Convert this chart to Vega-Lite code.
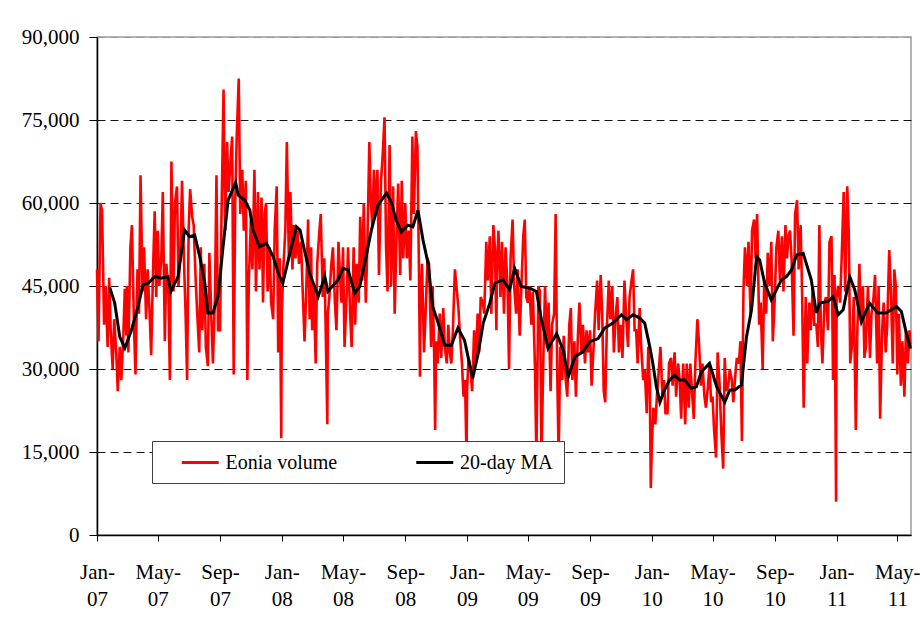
{
"$schema": "https://vega.github.io/schema/vega-lite/v6.json",
"width": 814, "height": 498,
"autosize": {"type": "none"},
"padding": {"left": 97, "top": 37, "right": 9, "bottom": 82},
"background": "white",
"config": {"view": {"stroke": "#9a9a9a", "strokeWidth": 1.5}, "font": "Liberation Serif",
 "legend": {"labelFont": "Liberation Serif", "titleFont": "Liberation Serif", "labelFontSize": 20},
 "axis": {"labelFont": "Liberation Serif"}},
"datasets": {
"eonia": [
{"d":"2007-01-01","v":48000},{"d":"2007-01-04","v":35000},{"d":"2007-01-08","v":60000},{"d":"2007-01-11","v":58500},{"d":"2007-01-15","v":38000},{"d":"2007-01-18","v":45000},{"d":"2007-01-22","v":34000},{"d":"2007-01-25","v":46500},{"d":"2007-01-28","v":37000},
{"d":"2007-02-01","v":30000},{"d":"2007-02-04","v":39000},{"d":"2007-02-08","v":33000},{"d":"2007-02-11","v":26000},{"d":"2007-02-15","v":34000},{"d":"2007-02-18","v":28000},{"d":"2007-02-22","v":36000},{"d":"2007-02-25","v":44500},{"d":"2007-02-28","v":36000},
{"d":"2007-03-01","v":45000},{"d":"2007-03-04","v":33000},{"d":"2007-03-08","v":52000},{"d":"2007-03-11","v":56000},{"d":"2007-03-15","v":38000},{"d":"2007-03-18","v":29000},{"d":"2007-03-22","v":48000},{"d":"2007-03-25","v":40000},{"d":"2007-03-28","v":65000},
{"d":"2007-04-01","v":44000},{"d":"2007-04-04","v":52000},{"d":"2007-04-08","v":39000},{"d":"2007-04-11","v":48000},{"d":"2007-04-15","v":40000},{"d":"2007-04-18","v":32500},{"d":"2007-04-22","v":49000},{"d":"2007-04-25","v":58500},{"d":"2007-04-28","v":43000},
{"d":"2007-05-01","v":55000},{"d":"2007-05-04","v":45000},{"d":"2007-05-08","v":50000},{"d":"2007-05-11","v":62000},{"d":"2007-05-15","v":35000},{"d":"2007-05-18","v":49000},{"d":"2007-05-22","v":44000},{"d":"2007-05-25","v":28000},{"d":"2007-05-28","v":67500},
{"d":"2007-06-01","v":44000},{"d":"2007-06-04","v":60000},{"d":"2007-06-08","v":63000},{"d":"2007-06-11","v":45000},{"d":"2007-06-15","v":52000},{"d":"2007-06-18","v":64000},{"d":"2007-06-22","v":49000},{"d":"2007-06-25","v":40000},{"d":"2007-06-28","v":28000},
{"d":"2007-07-01","v":55000},{"d":"2007-07-04","v":62500},{"d":"2007-07-08","v":57500},{"d":"2007-07-11","v":56000},{"d":"2007-07-15","v":46000},{"d":"2007-07-18","v":40000},{"d":"2007-07-22","v":33000},{"d":"2007-07-25","v":52000},{"d":"2007-07-28","v":37000},
{"d":"2007-08-01","v":49000},{"d":"2007-08-04","v":34000},{"d":"2007-08-08","v":30500},{"d":"2007-08-11","v":51000},{"d":"2007-08-15","v":39000},{"d":"2007-08-18","v":31000},{"d":"2007-08-22","v":43000},{"d":"2007-08-25","v":65000},{"d":"2007-08-28","v":37000},
{"d":"2007-09-01","v":37000},{"d":"2007-09-04","v":58000},{"d":"2007-09-08","v":80500},{"d":"2007-09-11","v":55000},{"d":"2007-09-15","v":71000},{"d":"2007-09-18","v":62000},{"d":"2007-09-22","v":68000},{"d":"2007-09-25","v":72000},{"d":"2007-09-28","v":29000},
{"d":"2007-10-01","v":60000},{"d":"2007-10-04","v":72000},{"d":"2007-10-08","v":82500},{"d":"2007-10-11","v":58000},{"d":"2007-10-15","v":66000},{"d":"2007-10-18","v":55000},{"d":"2007-10-22","v":64000},{"d":"2007-10-25","v":28000},{"d":"2007-10-28","v":46000},
{"d":"2007-11-01","v":57000},{"d":"2007-11-04","v":48000},{"d":"2007-11-08","v":66000},{"d":"2007-11-11","v":44000},{"d":"2007-11-15","v":62000},{"d":"2007-11-18","v":48000},{"d":"2007-11-22","v":61000},{"d":"2007-11-25","v":42000},{"d":"2007-11-28","v":58000},
{"d":"2007-12-01","v":60000},{"d":"2007-12-04","v":44000},{"d":"2007-12-08","v":52000},{"d":"2007-12-11","v":42000},{"d":"2007-12-15","v":39000},{"d":"2007-12-18","v":55000},{"d":"2007-12-22","v":63000},{"d":"2007-12-25","v":33000},{"d":"2007-12-28","v":50000},{"d":"2007-12-31","v":17500},
{"d":"2008-01-01","v":40000},{"d":"2008-01-04","v":48000},{"d":"2008-01-08","v":55000},{"d":"2008-01-11","v":71000},{"d":"2008-01-15","v":50000},{"d":"2008-01-18","v":62000},{"d":"2008-01-22","v":48000},{"d":"2008-01-25","v":56000},{"d":"2008-01-28","v":50000},
{"d":"2008-02-01","v":55000},{"d":"2008-02-04","v":49000},{"d":"2008-02-08","v":53000},{"d":"2008-02-11","v":45000},{"d":"2008-02-15","v":35000},{"d":"2008-02-18","v":43000},{"d":"2008-02-22","v":57000},{"d":"2008-02-25","v":39000},{"d":"2008-02-28","v":52000},
{"d":"2008-03-01","v":37000},{"d":"2008-03-04","v":45000},{"d":"2008-03-08","v":31000},{"d":"2008-03-11","v":49000},{"d":"2008-03-15","v":54500},{"d":"2008-03-18","v":58000},{"d":"2008-03-22","v":43000},{"d":"2008-03-25","v":50000},{"d":"2008-03-28","v":36000},{"d":"2008-03-31","v":20000},
{"d":"2008-04-01","v":40000},{"d":"2008-04-04","v":43000},{"d":"2008-04-08","v":49000},{"d":"2008-04-11","v":52000},{"d":"2008-04-15","v":42000},{"d":"2008-04-18","v":37000},{"d":"2008-04-22","v":53000},{"d":"2008-04-25","v":47000},{"d":"2008-04-28","v":42000},
{"d":"2008-05-01","v":52000},{"d":"2008-05-04","v":34000},{"d":"2008-05-08","v":43000},{"d":"2008-05-11","v":52000},{"d":"2008-05-15","v":40000},{"d":"2008-05-18","v":34000},{"d":"2008-05-22","v":52000},{"d":"2008-05-25","v":38000},{"d":"2008-05-28","v":49000},
{"d":"2008-06-01","v":42000},{"d":"2008-06-04","v":57500},{"d":"2008-06-08","v":46000},{"d":"2008-06-11","v":60000},{"d":"2008-06-15","v":42000},{"d":"2008-06-18","v":52000},{"d":"2008-06-22","v":71000},{"d":"2008-06-25","v":60000},{"d":"2008-06-28","v":56000},
{"d":"2008-07-01","v":66000},{"d":"2008-07-04","v":58000},{"d":"2008-07-08","v":66000},{"d":"2008-07-11","v":47000},{"d":"2008-07-15","v":64000},{"d":"2008-07-18","v":68000},{"d":"2008-07-22","v":75500},{"d":"2008-07-25","v":52000},{"d":"2008-07-28","v":44000},
{"d":"2008-08-01","v":70500},{"d":"2008-08-04","v":45000},{"d":"2008-08-08","v":63000},{"d":"2008-08-11","v":40000},{"d":"2008-08-15","v":55000},{"d":"2008-08-18","v":63500},{"d":"2008-08-22","v":47000},{"d":"2008-08-25","v":64000},{"d":"2008-08-28","v":50000},
{"d":"2008-09-01","v":60000},{"d":"2008-09-04","v":50000},{"d":"2008-09-08","v":55000},{"d":"2008-09-11","v":46000},{"d":"2008-09-15","v":72000},{"d":"2008-09-18","v":58000},{"d":"2008-09-22","v":73000},{"d":"2008-09-25","v":70000},{"d":"2008-09-28","v":48000},{"d":"2008-09-30","v":28600},
{"d":"2008-10-01","v":40000},{"d":"2008-10-04","v":49000},{"d":"2008-10-08","v":33000},{"d":"2008-10-11","v":40000},{"d":"2008-10-15","v":50000},{"d":"2008-10-18","v":49000},{"d":"2008-10-22","v":34000},{"d":"2008-10-25","v":45000},{"d":"2008-10-28","v":33000},{"d":"2008-10-30","v":19000},
{"d":"2008-11-01","v":35000},{"d":"2008-11-04","v":31000},{"d":"2008-11-08","v":40000},{"d":"2008-11-11","v":32000},{"d":"2008-11-15","v":41000},{"d":"2008-11-18","v":34000},{"d":"2008-11-22","v":31000},{"d":"2008-11-25","v":38000},{"d":"2008-11-28","v":33000},
{"d":"2008-12-01","v":31000},{"d":"2008-12-04","v":37000},{"d":"2008-12-08","v":48000},{"d":"2008-12-11","v":45000},{"d":"2008-12-15","v":41000},{"d":"2008-12-18","v":36000},{"d":"2008-12-22","v":31000},{"d":"2008-12-25","v":25000},{"d":"2008-12-28","v":28000},{"d":"2008-12-31","v":14000},
{"d":"2009-01-01","v":26000},{"d":"2009-01-04","v":32000},{"d":"2009-01-08","v":30000},{"d":"2009-01-11","v":26000},{"d":"2009-01-15","v":37000},{"d":"2009-01-18","v":31000},{"d":"2009-01-22","v":40000},{"d":"2009-01-25","v":33000},{"d":"2009-01-28","v":43000},
{"d":"2009-02-01","v":42000},{"d":"2009-02-04","v":40000},{"d":"2009-02-08","v":53000},{"d":"2009-02-11","v":46000},{"d":"2009-02-15","v":54000},{"d":"2009-02-18","v":40000},{"d":"2009-02-22","v":56000},{"d":"2009-02-25","v":52000},{"d":"2009-02-28","v":37000},
{"d":"2009-03-01","v":48000},{"d":"2009-03-04","v":55000},{"d":"2009-03-08","v":43000},{"d":"2009-03-11","v":53000},{"d":"2009-03-15","v":40000},{"d":"2009-03-18","v":52000},{"d":"2009-03-22","v":45000},{"d":"2009-03-25","v":30000},{"d":"2009-03-28","v":50000},
{"d":"2009-04-01","v":57000},{"d":"2009-04-04","v":45000},{"d":"2009-04-08","v":40000},{"d":"2009-04-11","v":48000},{"d":"2009-04-15","v":36000},{"d":"2009-04-18","v":44000},{"d":"2009-04-22","v":54000},{"d":"2009-04-25","v":57000},{"d":"2009-04-28","v":43000},
{"d":"2009-05-01","v":42000},{"d":"2009-05-04","v":45000},{"d":"2009-05-08","v":38000},{"d":"2009-05-11","v":44000},{"d":"2009-05-15","v":31000},{"d":"2009-05-18","v":14000},{"d":"2009-05-22","v":45000},{"d":"2009-05-25","v":44000},{"d":"2009-05-28","v":14000},
{"d":"2009-06-01","v":33000},{"d":"2009-06-04","v":45000},{"d":"2009-06-08","v":34000},{"d":"2009-06-11","v":42000},{"d":"2009-06-15","v":26000},{"d":"2009-06-18","v":38000},{"d":"2009-06-22","v":40000},{"d":"2009-06-25","v":58000},{"d":"2009-06-28","v":30000},
{"d":"2009-07-01","v":14000},{"d":"2009-07-04","v":34000},{"d":"2009-07-08","v":28000},{"d":"2009-07-11","v":36000},{"d":"2009-07-15","v":28000},{"d":"2009-07-18","v":25000},{"d":"2009-07-22","v":38000},{"d":"2009-07-25","v":41000},{"d":"2009-07-28","v":28000},
{"d":"2009-08-01","v":35000},{"d":"2009-08-04","v":25000},{"d":"2009-08-08","v":36000},{"d":"2009-08-11","v":42000},{"d":"2009-08-15","v":33000},{"d":"2009-08-18","v":38000},{"d":"2009-08-22","v":31000},{"d":"2009-08-25","v":37000},{"d":"2009-08-28","v":33000},
{"d":"2009-09-01","v":37000},{"d":"2009-09-04","v":27000},{"d":"2009-09-08","v":34000},{"d":"2009-09-11","v":40000},{"d":"2009-09-15","v":46000},{"d":"2009-09-18","v":37000},{"d":"2009-09-22","v":47000},{"d":"2009-09-25","v":40000},{"d":"2009-09-28","v":26000},
{"d":"2009-10-01","v":24000},{"d":"2009-10-04","v":37000},{"d":"2009-10-08","v":46000},{"d":"2009-10-11","v":39000},{"d":"2009-10-15","v":45000},{"d":"2009-10-18","v":33000},{"d":"2009-10-22","v":40000},{"d":"2009-10-25","v":43000},{"d":"2009-10-28","v":33000},
{"d":"2009-11-01","v":38000},{"d":"2009-11-04","v":32000},{"d":"2009-11-08","v":46000},{"d":"2009-11-11","v":40000},{"d":"2009-11-15","v":34000},{"d":"2009-11-18","v":43000},{"d":"2009-11-22","v":46000},{"d":"2009-11-25","v":48000},{"d":"2009-11-28","v":37000},
{"d":"2009-12-01","v":37000},{"d":"2009-12-04","v":31000},{"d":"2009-12-08","v":41000},{"d":"2009-12-11","v":34000},{"d":"2009-12-15","v":28000},{"d":"2009-12-18","v":30000},{"d":"2009-12-22","v":22000},{"d":"2009-12-25","v":34000},{"d":"2009-12-28","v":27000},{"d":"2009-12-30","v":8500},
{"d":"2010-01-01","v":16000},{"d":"2010-01-04","v":23000},{"d":"2010-01-08","v":20000},{"d":"2010-01-11","v":25000},{"d":"2010-01-15","v":30000},{"d":"2010-01-18","v":34000},{"d":"2010-01-22","v":25000},{"d":"2010-01-25","v":28000},{"d":"2010-01-28","v":22000},
{"d":"2010-02-01","v":22000},{"d":"2010-02-04","v":31000},{"d":"2010-02-08","v":32000},{"d":"2010-02-11","v":27000},{"d":"2010-02-15","v":33000},{"d":"2010-02-18","v":25000},{"d":"2010-02-22","v":31000},{"d":"2010-02-25","v":28000},{"d":"2010-02-28","v":21000},
{"d":"2010-03-01","v":24000},{"d":"2010-03-04","v":31000},{"d":"2010-03-08","v":20000},{"d":"2010-03-11","v":31000},{"d":"2010-03-15","v":23000},{"d":"2010-03-18","v":31000},{"d":"2010-03-22","v":25000},{"d":"2010-03-25","v":21000},{"d":"2010-03-28","v":31000},
{"d":"2010-04-01","v":39000},{"d":"2010-04-04","v":35000},{"d":"2010-04-08","v":27000},{"d":"2010-04-11","v":31000},{"d":"2010-04-15","v":25000},{"d":"2010-04-18","v":23000},{"d":"2010-04-22","v":27000},{"d":"2010-04-25","v":31000},{"d":"2010-04-28","v":24000},
{"d":"2010-05-01","v":25000},{"d":"2010-05-04","v":19000},{"d":"2010-05-08","v":14000},{"d":"2010-05-11","v":33000},{"d":"2010-05-15","v":27000},{"d":"2010-05-18","v":19000},{"d":"2010-05-22","v":12000},{"d":"2010-05-25","v":32000},{"d":"2010-05-28","v":26000},
{"d":"2010-06-01","v":27000},{"d":"2010-06-04","v":30000},{"d":"2010-06-08","v":28000},{"d":"2010-06-11","v":24000},{"d":"2010-06-15","v":29000},{"d":"2010-06-18","v":32000},{"d":"2010-06-22","v":31000},{"d":"2010-06-25","v":35000},{"d":"2010-06-28","v":17000},
{"d":"2010-07-01","v":44000},{"d":"2010-07-04","v":52000},{"d":"2010-07-08","v":45000},{"d":"2010-07-11","v":53000},{"d":"2010-07-15","v":40000},{"d":"2010-07-18","v":55000},{"d":"2010-07-22","v":57000},{"d":"2010-07-25","v":50000},{"d":"2010-07-28","v":58000},
{"d":"2010-08-01","v":38000},{"d":"2010-08-04","v":42000},{"d":"2010-08-08","v":30000},{"d":"2010-08-11","v":46000},{"d":"2010-08-15","v":40000},{"d":"2010-08-18","v":51000},{"d":"2010-08-22","v":45000},{"d":"2010-08-25","v":53000},{"d":"2010-08-28","v":35000},
{"d":"2010-09-01","v":43000},{"d":"2010-09-04","v":52000},{"d":"2010-09-08","v":55000},{"d":"2010-09-11","v":46000},{"d":"2010-09-15","v":54000},{"d":"2010-09-18","v":44000},{"d":"2010-09-22","v":56000},{"d":"2010-09-25","v":50000},{"d":"2010-09-28","v":54000},
{"d":"2010-10-01","v":55000},{"d":"2010-10-04","v":50000},{"d":"2010-10-08","v":36000},{"d":"2010-10-11","v":58000},{"d":"2010-10-15","v":60500},{"d":"2010-10-18","v":48000},{"d":"2010-10-22","v":56000},{"d":"2010-10-25","v":43000},{"d":"2010-10-28","v":23000},
{"d":"2010-11-01","v":43000},{"d":"2010-11-04","v":31000},{"d":"2010-11-08","v":42000},{"d":"2010-11-11","v":37000},{"d":"2010-11-15","v":45000},{"d":"2010-11-18","v":38000},{"d":"2010-11-22","v":38000},{"d":"2010-11-25","v":34000},{"d":"2010-11-28","v":56000},
{"d":"2010-12-01","v":37000},{"d":"2010-12-04","v":31000},{"d":"2010-12-08","v":42000},{"d":"2010-12-11","v":43000},{"d":"2010-12-15","v":37000},{"d":"2010-12-18","v":53000},{"d":"2010-12-22","v":54000},{"d":"2010-12-25","v":28000},{"d":"2010-12-28","v":47000},{"d":"2010-12-31","v":6000},
{"d":"2011-01-01","v":43000},{"d":"2011-01-04","v":45000},{"d":"2011-01-08","v":42000},{"d":"2011-01-11","v":50000},{"d":"2011-01-15","v":62000},{"d":"2011-01-18","v":44000},{"d":"2011-01-22","v":63000},{"d":"2011-01-25","v":55000},{"d":"2011-01-28","v":31000},
{"d":"2011-02-01","v":35000},{"d":"2011-02-04","v":43000},{"d":"2011-02-08","v":19000},{"d":"2011-02-11","v":37000},{"d":"2011-02-15","v":49000},{"d":"2011-02-18","v":39000},{"d":"2011-02-22","v":45000},{"d":"2011-02-25","v":32000},{"d":"2011-02-28","v":34000},
{"d":"2011-03-01","v":38000},{"d":"2011-03-04","v":45000},{"d":"2011-03-08","v":32000},{"d":"2011-03-11","v":40000},{"d":"2011-03-15","v":43000},{"d":"2011-03-18","v":47000},{"d":"2011-03-22","v":31000},{"d":"2011-03-25","v":45000},{"d":"2011-03-28","v":21000},
{"d":"2011-04-01","v":37000},{"d":"2011-04-04","v":42000},{"d":"2011-04-08","v":33000},{"d":"2011-04-11","v":38000},{"d":"2011-04-15","v":51500},{"d":"2011-04-18","v":45000},{"d":"2011-04-22","v":31000},{"d":"2011-04-25","v":48000},{"d":"2011-04-28","v":45000},
{"d":"2011-05-01","v":29000},{"d":"2011-05-04","v":40000},{"d":"2011-05-08","v":27000},{"d":"2011-05-11","v":35000},{"d":"2011-05-15","v":25000},{"d":"2011-05-18","v":37000},{"d":"2011-05-22","v":31000},{"d":"2011-05-25","v":37000},{"d":"2011-05-27","v":34000}
],
"ma": [
{"d":"2007-01-26","v":44800},{"d":"2007-02-05","v":41900},{"d":"2007-02-15","v":35800},{"d":"2007-02-25","v":33800},{"d":"2007-03-10","v":37000},{"d":"2007-03-23","v":41300},{"d":"2007-04-02","v":45200},{"d":"2007-04-12","v":45500},{"d":"2007-04-25","v":46700},{"d":"2007-05-08","v":46400},{"d":"2007-05-21","v":46700},{"d":"2007-05-27","v":44000},{"d":"2007-06-10","v":46700},{"d":"2007-06-23","v":55100},{"d":"2007-07-03","v":53900},{"d":"2007-07-13","v":54200},{"d":"2007-07-23","v":50300},{"d":"2007-08-02","v":45500},{"d":"2007-08-08","v":40100},{"d":"2007-08-18","v":40100},{"d":"2007-08-28","v":43100},{"d":"2007-09-07","v":52100},{"d":"2007-09-17","v":60500},{"d":"2007-10-02","v":63700},{"d":"2007-10-07","v":61400},{"d":"2007-10-20","v":60500},{"d":"2007-10-30","v":58700},{"d":"2007-11-05","v":55100},{"d":"2007-11-18","v":52100},{"d":"2007-12-02","v":52700},{"d":"2007-12-15","v":50300},{"d":"2007-12-25","v":47300},
{"d":"2008-01-03","v":45500},{"d":"2008-01-17","v":50900},{"d":"2008-01-30","v":55700},{"d":"2008-02-06","v":55100},{"d":"2008-02-25","v":47300},{"d":"2008-03-13","v":43100},{"d":"2008-03-26","v":46700},{"d":"2008-04-01","v":44000},{"d":"2008-04-21","v":46100},{"d":"2008-05-01","v":48200},{"d":"2008-05-11","v":47900},{"d":"2008-05-24","v":43700},{"d":"2008-06-03","v":44900},{"d":"2008-06-16","v":50500},{"d":"2008-06-26","v":55100},{"d":"2008-07-09","v":59600},{"d":"2008-07-26","v":61800},{"d":"2008-08-05","v":60000},{"d":"2008-08-14","v":56900},{"d":"2008-08-24","v":54800},{"d":"2008-09-06","v":56000},{"d":"2008-09-16","v":55700},{"d":"2008-09-26","v":58700},{"d":"2008-10-06","v":53300},{"d":"2008-10-16","v":49100},{"d":"2008-10-25","v":41300},{"d":"2008-11-05","v":38300},{"d":"2008-11-18","v":34300},{"d":"2008-12-01","v":34300},{"d":"2008-12-14","v":37400},{"d":"2008-12-27","v":35200},
{"d":"2009-01-12","v":28300},{"d":"2009-01-23","v":32800},{"d":"2009-02-02","v":38300},{"d":"2009-02-15","v":41900},{"d":"2009-02-25","v":45500},{"d":"2009-03-13","v":46100},{"d":"2009-03-26","v":44300},{"d":"2009-04-05","v":48200},{"d":"2009-04-18","v":44900},{"d":"2009-05-05","v":44600},{"d":"2009-05-18","v":44000},{"d":"2009-05-28","v":38900},{"d":"2009-06-10","v":33700},{"d":"2009-06-27","v":36400},{"d":"2009-07-10","v":33400},{"d":"2009-07-20","v":28600},{"d":"2009-08-02","v":32200},{"d":"2009-08-18","v":33100},{"d":"2009-08-31","v":34900},{"d":"2009-09-17","v":35500},{"d":"2009-09-30","v":37400},{"d":"2009-10-16","v":38300},{"d":"2009-11-02","v":39800},{"d":"2009-11-12","v":38900},{"d":"2009-11-25","v":39800},{"d":"2009-12-08","v":39200},{"d":"2009-12-18","v":38300},{"d":"2009-12-28","v":34000},
{"d":"2010-01-03","v":31000},{"d":"2010-01-10","v":26800},{"d":"2010-01-17","v":24000},{"d":"2010-01-26","v":26200},{"d":"2010-02-05","v":28000},{"d":"2010-02-15","v":28900},{"d":"2010-02-25","v":28000},{"d":"2010-03-07","v":28000},{"d":"2010-03-20","v":26500},{"d":"2010-03-30","v":26800},{"d":"2010-04-09","v":29500},{"d":"2010-04-25","v":31000},{"d":"2010-05-09","v":26800},{"d":"2010-05-25","v":24000},{"d":"2010-06-04","v":26200},{"d":"2010-06-14","v":26200},{"d":"2010-06-27","v":27100},{"d":"2010-07-07","v":35800},{"d":"2010-07-17","v":40700},{"d":"2010-07-27","v":50300},{"d":"2010-08-02","v":49700},{"d":"2010-08-12","v":45500},{"d":"2010-08-25","v":42500},{"d":"2010-09-04","v":44300},{"d":"2010-09-14","v":46100},{"d":"2010-09-24","v":46700},{"d":"2010-10-04","v":47900},{"d":"2010-10-14","v":50600},{"d":"2010-10-27","v":50900},{"d":"2010-11-12","v":46100},{"d":"2010-11-22","v":40100},{"d":"2010-11-29","v":41900},{"d":"2010-12-15","v":42200},{"d":"2010-12-25","v":43100},
{"d":"2011-01-04","v":39800},{"d":"2011-01-14","v":40700},{"d":"2011-01-27","v":46700},{"d":"2011-02-06","v":44300},{"d":"2011-02-19","v":38500},{"d":"2011-03-07","v":41900},{"d":"2011-03-23","v":40100},{"d":"2011-04-09","v":40100},{"d":"2011-04-19","v":40700},{"d":"2011-04-29","v":41300},{"d":"2011-05-09","v":40400},{"d":"2011-05-19","v":36400},{"d":"2011-05-27","v":33700}
]
},
"layer": [
{
"data": {"name": "eonia"},
"mark": {"type": "line", "strokeWidth": 2.6},
"encoding": {
"x": {"field": "d", "type": "temporal",
 "scale": {"type": "utc", "domain": [{"year": 2007, "month": 1, "date": 1, "utc": true}, {"year": 2011, "month": 5, "date": 28, "utc": true}]},
 "axis": {"title": null,
  "values": [{"year":2007,"month":1,"date":1,"utc":true},{"year":2007,"month":5,"date":1,"utc":true},{"year":2007,"month":9,"date":1,"utc":true},{"year":2008,"month":1,"date":1,"utc":true},{"year":2008,"month":5,"date":1,"utc":true},{"year":2008,"month":9,"date":1,"utc":true},{"year":2009,"month":1,"date":1,"utc":true},{"year":2009,"month":5,"date":1,"utc":true},{"year":2009,"month":9,"date":1,"utc":true},{"year":2010,"month":1,"date":1,"utc":true},{"year":2010,"month":5,"date":1,"utc":true},{"year":2010,"month":9,"date":1,"utc":true},{"year":2011,"month":1,"date":1,"utc":true},{"year":2011,"month":5,"date":1,"utc":true}],
  "labelExpr": "[utcFormat(datum.value, '%b-'), utcFormat(datum.value, '%y')]",
  "labelFont": "Liberation Serif", "labelFontSize": 21, "labelColor": "black",
  "labelLineHeight": 27, "labelBaseline": "top", "labelPadding": 20, "labelAngle": 0,
  "labelFlush": false, "labelOverlap": false,
  "tickSize": 6, "tickColor": "black",
  "domainColor": "black", "domainWidth": 1.5, "grid": false}},
"y": {"field": "v", "type": "quantitative",
 "scale": {"domain": [0, 90000], "nice": false},
 "axis": {"title": null, "values": [0, 15000, 30000, 45000, 60000, 75000, 90000], "format": ",d",
  "labelFont": "Liberation Serif", "labelFontSize": 21, "labelColor": "black",
  "labelPadding": 10, "tickSize": 8, "tickColor": "black", "labelOverlap": false,
  "domainColor": "black", "domainWidth": 1.5,
  "grid": true, "gridDash": [8, 5], "gridWidth": 1,
  "gridColor": {"condition": {"test": "datum.value >= 90000", "value": "#9a9a9a"}, "value": "#111111"}}},
"color": {"datum": "Eonia volume", "type": "nominal",
 "scale": {"domain": ["Eonia volume", "20-day MA"], "range": ["#ff0000", "#000000"]},
 "legend": {"orient": "none", "legendX": 55, "legendY": 404, "direction": "horizontal", "columns": 2, "gridAlign": "all",
  "title": " ", "titleOrient": "left", "titleFontSize": 20, "titlePadding": 26.75, "titleFont": "Liberation Serif",
  "padding": 10.5, "fillColor": "white", "strokeColor": "#404040",
  "symbolType": "M-2,0H2", "symbolSize": 342, "symbolStrokeWidth": 3,
  "labelFont": "Liberation Serif", "labelFontSize": 20, "labelColor": "black", "labelOffset": 14.25, "labelLimit": 0,
  "columnPadding": 72.5}}
}
},
{
"data": {"name": "ma"},
"mark": {"type": "line", "strokeWidth": 3},
"encoding": {
"x": {"field": "d", "type": "temporal"},
"y": {"field": "v", "type": "quantitative"},
"color": {"datum": "20-day MA", "type": "nominal"}
}
}
]
}
